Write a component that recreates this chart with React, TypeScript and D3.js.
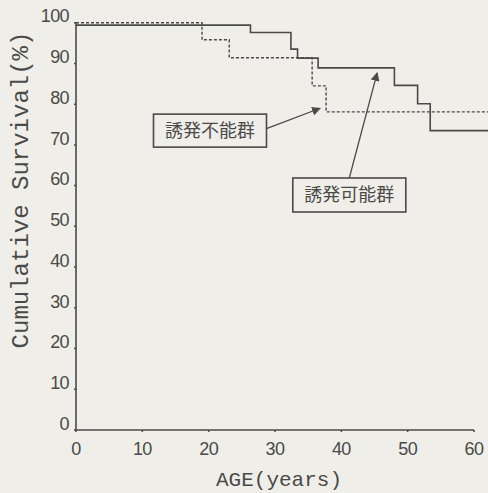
import React from 'react';
import * as d3 from 'd3';

// 誘発可能群 (solid) : step times (years) and survival (%)
const kanouTimes = [0, 26.3, 32.4, 33.4, 36.5, 48.0, 51.5, 53.4, 62.5];
const kanouSurvival = [99.4, 97.6, 93.5, 91.3, 88.9, 84.6, 80.1, 73.5, 73.5];

// 誘発不能群 (dashed)
const funouTimes = [0, 19.0, 23.1, 35.6, 37.7, 62.5];
const funouSurvival = [100, 95.8, 91.4, 84.5, 78.1, 78.1];

const xTicks = [0, 10, 20, 30, 40, 50, 60];
const yTicks = [0, 10, 20, 30, 40, 50, 60, 70, 80, 90, 100];

const width = 488;
const height = 493;
const ink = '#4a4a48';
const paper = '#efeee9';

export default function App() {
  const x = d3.scaleLinear().domain([0, 60]).range([76, 474]);
  const y = d3.scaleLinear().domain([0, 100]).range([430, 22.7]);

  const line = d3.line<[number, number]>()
    .x(d => x(d[0]))
    .y(d => y(d[1]))
    .curve(d3.curveStepAfter);

  const kanou = line(kanouTimes.map((t, i) => [t, kanouSurvival[i]]));
  const funou = line(funouTimes.map((t, i) => [t, funouSurvival[i]]));

  // annotation boxes (centre in data units)
  const box1 = { cx: x(20.2), cy: y(73.5), w: 113, h: 33 };
  const box2 = { cx: x(41.2), cy: y(57.7), w: 113, h: 34 };

  return (
    <svg width={width} height={height} style={{ position: 'absolute', left: 0, top: 0 }}>
      <defs>
        <marker id="head" viewBox="0 0 10 10" refX="9" refY="5" markerWidth="9" markerHeight="9"
          markerUnits="userSpaceOnUse" orient="auto">
          <path d="M0,0 L10,5 L0,10 z" fill={ink} />
        </marker>
      </defs>
      <rect width={width} height={height} fill={paper} />

      {/* axes */}
      <line x1={x(0)} x2={x(60)} y1={y(0)} y2={y(0)} stroke={ink} strokeWidth={1.6} />
      <line x1={x(0)} x2={x(0)} y1={y(0)} y2={y(100)} stroke={ink} strokeWidth={1.6} />

      {yTicks.map(v => (
        <g key={'y' + v}>
          <line x1={x(0) - 2} x2={x(0)} y1={y(v)} y2={y(v)} stroke={ink} strokeWidth={1.5} />
          <text x={69} y={y(v) - 5} textAnchor="end" dominantBaseline="middle"
            fontFamily="Liberation Sans, Arial, sans-serif" fontSize={18} letterSpacing={-0.6} fill={ink}>
            {v}
          </text>
        </g>
      ))}
      {xTicks.map(v => (
        <g key={'x' + v}>
          <line x1={x(v)} x2={x(v)} y1={y(0)} y2={y(0) + 2} stroke={ink} strokeWidth={1.5} />
          <text x={x(v)} y={455} textAnchor="middle"
            fontFamily="Liberation Sans, Arial, sans-serif" fontSize={18} letterSpacing={-0.6} fill={ink}>
            {v}
          </text>
        </g>
      ))}

      <text transform={`translate(28,190) rotate(-90)`} textAnchor="middle"
        fontFamily="Liberation Mono, monospace" fontSize={24} fill={ink}>
        Cumulative Survival(%)
      </text>
      <text x={279} y={486} textAnchor="middle"
        fontFamily="Liberation Mono, monospace" fontSize={21} fill={ink}>
        AGE(years)
      </text>

      {/* survival curves */}
      <path d={funou ?? ''} fill="none" stroke={ink} strokeWidth={1.4} strokeDasharray="3,2" />
      <path d={kanou ?? ''} fill="none" stroke={ink} strokeWidth={1.6} />

      {/* annotations */}
      <rect x={box1.cx - box1.w / 2} y={box1.cy - box1.h / 2} width={box1.w} height={box1.h}
        fill={paper} stroke={ink} strokeWidth={1.6} />
      <text x={box1.cx} y={box1.cy + 1} textAnchor="middle" dominantBaseline="middle"
        fontFamily="Noto Sans CJK JP, sans-serif" fontSize={18} fill={ink}>誘発不能群</text>
      <line x1={box1.cx + box1.w / 2} y1={box1.cy - 2} x2={x(36.8)} y2={y(79.0)}
        stroke={ink} strokeWidth={1.3} markerEnd="url(#head)" />

      <rect x={box2.cx - box2.w / 2} y={box2.cy - box2.h / 2} width={box2.w} height={box2.h}
        fill={paper} stroke={ink} strokeWidth={1.6} />
      <text x={box2.cx} y={box2.cy + 1} textAnchor="middle" dominantBaseline="middle"
        fontFamily="Noto Sans CJK JP, sans-serif" fontSize={18} fill={ink}>誘発可能群</text>
      <line x1={x(41.2)} y1={box2.cy - box2.h / 2} x2={x(45.4)} y2={y(87.7)}
        stroke={ink} strokeWidth={1.3} markerEnd="url(#head)" />
    </svg>
  );
}
